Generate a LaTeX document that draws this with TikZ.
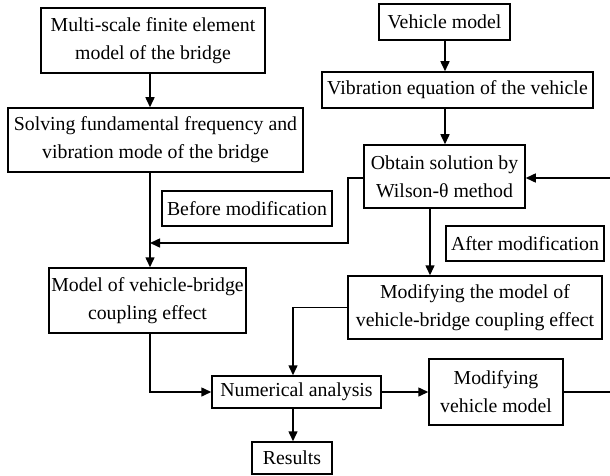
\documentclass[tikz,border=0pt]{standalone}
\usepackage{fontspec}
\setmainfont{Liberation Serif}
\usetikzlibrary{arrows.meta}
\begin{document}
\begin{tikzpicture}[x=1pt,y=-1pt,
  box/.style={draw,line width=1.5pt,align=center,inner sep=0pt,
    font=\fontsize{19.8}{28}\selectfont},
  conn/.style={line width=1.5pt},
  arr/.style={conn,-{Triangle[length=10pt,width=9pt]}}]
\useasboundingbox (0,0) rectangle (610,476);
\node[box,minimum width=224,minimum height=65] (b1) at (153,40.5) {Multi-scale finite element\\model of the bridge};
\node[box,minimum width=295,minimum height=64] (b2) at (155.5,140) {Solving fundamental frequency and\\vibration mode of the bridge};
\node[box,minimum width=197,minimum height=65] (b3) at (147.5,300.5) {Model of vehicle-bridge\\coupling effect};
\node[box,minimum width=170,minimum height=35] (before) at (247,208.5) {Before modification};
\node[box,minimum width=131,minimum height=36] (vm) at (444.5,22) {Vehicle model};
\node[box,minimum width=271,minimum height=36] (ve) at (457.5,90) {Vibration equation of the vehicle};
\node[box,minimum width=161,minimum height=63] (ob) at (444.5,176.5) {Obtain solution by\\Wilson-θ method};
\node[box,minimum width=158,minimum height=35] (after) at (525,243.5) {After modification};
\node[box,minimum width=254,minimum height=63] (mm) at (475,307.5) {Modifying the model of\\vehicle-bridge coupling effect};
\node[box,minimum width=169,minimum height=32] (na) at (296.5,392) {Numerical analysis};
\node[box,minimum width=134,minimum height=66] (mv) at (496,392) {Modifying\\vehicle model};
\node[box,minimum width=80,minimum height=32] (res) at (292,458) {Results};
\coordinate (xl) at (150,0);
\coordinate (xm) at (293,0);
\coordinate (xv) at (445,0);
\coordinate (xo) at (430,0);
\coordinate (xj) at (348,0);
\coordinate (yb) at (0,243);
\coordinate (rin) at (610,178);
\coordinate (rout) at (610,392);
\draw[arr] (b1.south -| xl) -- (b2.north -| xl);
\draw[arr] (b2.south -| xl) -- (b3.north -| xl);
\draw[arr] (ob.west |- rin) -| (xj |- yb) -- (xl |- yb);
\draw[arr] (vm.south -| xv) -- (ve.north -| xv);
\draw[arr] (ve.south -| xv) -- (ob.north -| xv);
\draw[arr] (rin) -- (ob.east |- rin);
\draw[arr] (ob.south -| xo) -- (mm.north -| xo);
\draw[arr] (mm.west) -| (na.north -| xm);
\draw[arr] (b3.south -| xl) |- (na.west);
\draw[arr] (na.east) -- (mv.west);
\draw[conn] (mv.east) -- (rout);
\draw[arr] (na.south -| xm) -- (res.north -| xm);
\end{tikzpicture}
\end{document}
